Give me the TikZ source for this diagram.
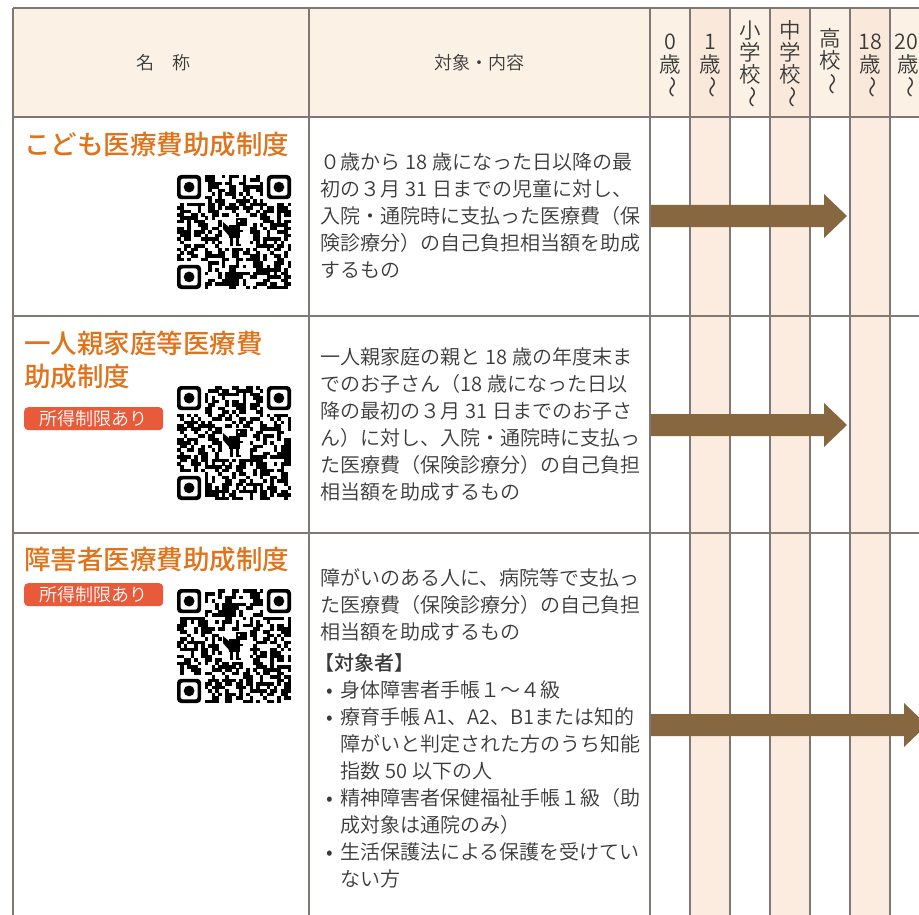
\documentclass[tikz,border=0pt]{standalone}
\usepackage{fontspec}
\IfFontExistsTF{Noto Sans CJK JP DemiLight}
  {\setmainfont{Noto Sans CJK JP DemiLight}[BoldFont=Noto Sans CJK JP Medium]}
  {\setmainfont{Noto Sans CJK JP}}
\usetikzlibrary{positioning}

\definecolor{hdrcream}{RGB}{251,242,229}
\definecolor{hdrpink}{RGB}{250,233,219}
\definecolor{colpink}{RGB}{252,236,223}
\definecolor{gridgray}{RGB}{128,120,117}
\definecolor{barbrown}{RGB}{134,103,64}
\definecolor{titleorange}{RGB}{224,115,26}
\definecolor{badgered}{RGB}{232,90,58}
\definecolor{bodytext}{RGB}{58,58,58}

% space round a half-width run
\newcommand{\lat}[1]{\hspace{0.25em}#1\hspace{0.25em}}

% QR-like block: x, y (top left), seed
\newcommand{\qrpattern}[3]{%
  \foreach \i in {0,...,32}{
    \foreach \j in {0,...,32}{
      \edef\qra{\the\numexpr \i*33+\j+#3*41+17\relax}
      \edef\qrm{\the\numexpr \qra*\qra*3-(\qra*\qra*3/1009)*1009\relax}
      \edef\qrc{\the\numexpr \qrm*\qrm*5+\qrm*13+7\relax}
      \edef\qrd{\the\numexpr \qrc-(\qrc/997)*997\relax}
      \pgfmathtruncatemacro{\qrskip}{((\i<8)&&(\j<8)) || ((\i>24)&&(\j<8)) || ((\i<8)&&(\j>24)) || ((\i>12)&&(\i<21)&&(\j>11)&&(\j<21))}
      \ifnum\qrd>0 \ifnum\qrskip=0
        \fill (#1+\i*3.455, #2+\j*3.455) rectangle ++(3.5,3.5);
      \fi\fi
    }
  }
  % finder squares
  \foreach \fx/\fy in {0/0, 89.8/0, 0/89.8}{
    \fill[rounded corners=4pt] (#1+\fx,#2+\fy) rectangle ++(24.2,24.2);
    \fill[white, rounded corners=2.5pt] (#1+\fx+3.6,#2+\fy+3.6) rectangle ++(17,17);
    \fill (#1+\fx+12.1,#2+\fy+12.1) circle (5.4pt);
  }
  % dino
  \fill (#1+59,#2+43) rectangle (#1+70,#2+51);
  \fill[white] (#1+61,#2+45) rectangle (#1+63,#2+47);
  \fill (#1+52,#2+50) rectangle (#1+63,#2+63);
  \fill (#1+53,#2+53) -- (#1+46,#2+47) -- (#1+46,#2+54) -- (#1+53,#2+62) -- cycle;
  \fill (#1+63,#2+55) rectangle (#1+66,#2+57);
  \fill (#1+53,#2+63) rectangle (#1+56,#2+71);
  \fill (#1+59,#2+63) rectangle (#1+62,#2+71);
  \fill (#1+62,#2+69) rectangle (#1+64,#2+71);
}

\begin{document}
\begin{tikzpicture}[x=1pt, y=-1pt,
    tableline/.style={draw=gridgray, line width=1.4pt},
    hdrtext/.style={inner sep=0, text=bodytext, font=\fontsize{18}{20}\selectfont},
    agetext/.style={inner sep=0, text=bodytext, font=\fontsize{21.5}{22}\selectfont},
    nametitle/.style={anchor=west, inner sep=0, text=titleorange, font=\bfseries\fontsize{26.5}{34}\selectfont},
    badge/.style={anchor=north west, fill=badgered, rounded corners=4pt, text=white,
      minimum width=139pt, minimum height=23pt, inner sep=0, font=\fontsize{18}{20}\selectfont},
    desc/.style={anchor=north west, inner sep=0, align=left, text=bodytext, font=\fontsize{20}{27}\selectfont},
    agebar/.style={fill=barbrown}]

    \useasboundingbox (0,0) rectangle (919,915);
    \clip (0,0) rectangle (919,915);
    \fill[white] (0,0) rectangle (919,915);

    % header and shaded columns
    \fill[hdrcream] (13,8) rectangle (930,117);
    \foreach \cx in {690,770,850}{
        \fill[hdrpink] (\cx,8) rectangle (\cx+40,117);
        \fill[colpink] (\cx,117) rectangle (\cx+40,915);
    }

    % grid
    \foreach \ry in {8,117,316,533}
        \draw[tableline] (13,\ry) -- (930,\ry);
    \foreach \cx in {13,309,650,690,730,770,810,850,890}
        \draw[tableline] (\cx,8) -- (\cx,915);

    % header texts
    \node[hdrtext] (hname) at (163,63) {名　称};
    \node[hdrtext] (hcontent) at (479,63) {対象・内容};

    \node[agetext] (a0) at (670,42) {0};
    \node[agetext] (a0b) at (670,64) {歳};
    \node[agetext, rotate=-90] (a0c) at (670,87) {〜};

    \node[agetext] (a1) at (710,42) {1};
    \node[agetext] (a1b) at (710,64) {歳};
    \node[agetext, rotate=-90] (a1c) at (710,87) {〜};

    \node[agetext] (es) at (750,30) {小};
    \node[agetext] (esb) at (750,52) {学};
    \node[agetext] (esc) at (750,74) {校};
    \node[agetext, rotate=-90] (esd) at (750,97) {〜};

    \node[agetext] (js) at (790,30) {中};
    \node[agetext] (jsb) at (790,52) {学};
    \node[agetext] (jsc) at (790,74) {校};
    \node[agetext, rotate=-90] (jsd) at (790,97) {〜};

    \node[agetext] (hs) at (830,38) {高};
    \node[agetext] (hsb) at (830,60) {校};
    \node[agetext, rotate=-90] (hsc) at (830,84) {〜};

    \node[agetext] (a18) at (870,42) {18};
    \node[agetext] (a18b) at (870,64) {歳};
    \node[agetext, rotate=-90] (a18c) at (870,87) {〜};

    \node[agetext] (a20) at (906,42) {20};
    \node[agetext] (a20b) at (908,64) {歳};
    \node[agetext, rotate=-90] (a20c) at (908,87) {〜};

    % row 1
    \node[nametitle] (title1) at (24,145) {こども医療費助成制度};
    \qrpattern{177}{175}{11}
    \node[desc] (desc1) at (320,153) {０歳から\lat{18}歳になった日以降の最\\
        初の３月\lat{31}日までの児童に対し、\\
        入院・通院時に支払った医療費（保\\
        険診療分）の自己負担相当額を助成\\
        するもの};
    \fill[agebar] (651,205) -- (824,205) -- (824,194) -- (847,216) -- (824,238) -- (824,227) -- (651,227) -- cycle;

    % row 2
    \node[nametitle] (title2) at (24,343) {一人親家庭等医療費};
    \node[nametitle] (title2b) at (24,377) {助成制度};
    \node[badge] (badge2) at (24,407) {所得制限あり};
    \qrpattern{177}{386}{23}
    \node[desc] (desc2) at (320,347) {一人親家庭の親と\lat{18}歳の年度末ま\\
        でのお子さん（18\hspace{0.25em}歳になった日以\\
        降の最初の３月\lat{31}日までのお子さ\\
        ん）に対し、入院・通院時に支払っ\\
        た医療費（保険診療分）の自己負担\\
        相当額を助成するもの};
    \fill[agebar] (651,414) -- (824,414) -- (824,403) -- (847,425) -- (824,447) -- (824,436) -- (651,436) -- cycle;

    % row 3
    \node[nametitle] (title3) at (24,560) {障害者医療費助成制度};
    \node[badge] (badge3) at (24,583) {所得制限あり};
    \qrpattern{177}{589}{37}
    \node[desc] (desc3) at (320,568) {障がいのある人に、病院等で支払っ\\
        た医療費（保険診療分）の自己負担\\
        相当額を助成するもの};
    \node[desc] (target3) at (320,653) {\hspace*{-6pt}{\bfseries 【対象者】}\\
        \makebox[20pt][c]{•}身体障害者手帳１〜４級\\
        \makebox[20pt][c]{•}療育手帳\hspace{0.2em}A1、A2、B1または知的\\
        \hspace*{20pt}障がいと判定された方のうち知能\\
        \hspace*{20pt}指数\lat{50}以下の人\\
        \makebox[20pt][c]{•}精神障害者保健福祉手帳１級（助\\
        \hspace*{20pt}成対象は通院のみ）\\
        \makebox[20pt][c]{•}生活保護法による保護を受けてい\\
        \hspace*{20pt}ない方};
    \fill[agebar] (651,714) -- (904,714) -- (904,703) -- (927,725) -- (904,747) -- (904,736) -- (651,736) -- cycle;

\end{tikzpicture}
\end{document}
